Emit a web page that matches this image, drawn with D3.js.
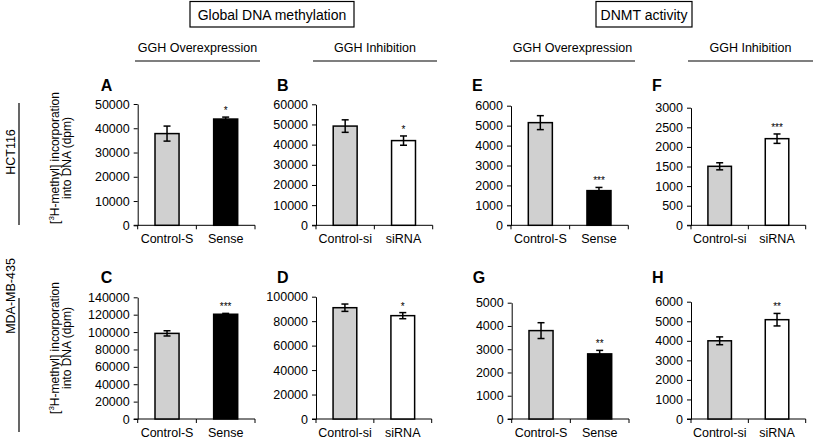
<!DOCTYPE html>
<html><head><meta charset="utf-8">
<script src="https://cdn.jsdelivr.net/npm/d3@7"></script>
<style>
html,body{margin:0;padding:0;background:#fff;}
svg{display:block;font-family:"Liberation Sans",Arial,sans-serif;}
</style></head>
<body><svg id="chart" width="814" height="442"></svg>
<script>
// ---------- data ----------
const categoriesOver = ["Control-S", "Sense"];
const categoriesInhib = ["Control-si", "siRNA"];

const valuesA = [37800, 43800];  const errorsA = [3100, 800];  const starsA = ["", "*"];
const ticksA = [0, 10000, 20000, 30000, 40000, 50000];
const valuesB = [49200, 42000];  const errorsB = [3100, 2300]; const starsB = ["", "*"];
const ticksB = [0, 10000, 20000, 30000, 40000, 50000, 60000];
const valuesC = [98500, 120500]; const errorsC = [3000, 1000]; const starsC = ["", "***"];
const ticksC = [0, 20000, 40000, 60000, 80000, 100000, 120000, 140000];
const valuesD = [91000, 84500];  const errorsD = [3000, 2500]; const starsD = ["", "*"];
const ticksD = [0, 20000, 40000, 60000, 80000, 100000];
const valuesE = [5150, 1740];    const errorsE = [350, 160];   const starsE = ["", "***"];
const ticksE = [0, 1000, 2000, 3000, 4000, 5000, 6000];
const valuesF = [1505, 2210];    const errorsF = [90, 120];    const starsF = ["", "***"];
const ticksF = [0, 500, 1000, 1500, 2000, 2500, 3000];
const valuesG = [3800, 2800];    const errorsG = [340, 150];   const starsG = ["", "**"];
const ticksG = [0, 1000, 2000, 3000, 4000, 5000];
const valuesH = [4000, 5080];    const errorsH = [200, 320];   const starsH = ["", "**"];
const ticksH = [0, 1000, 2000, 3000, 4000, 5000, 6000];

const fillOver = ["#d0d0d0", "#000000"];
const fillInhib = ["#d0d0d0", "#ffffff"];

// ---------- layout ----------
const panels = [
  {id:"A", cats:categoriesOver,  vals:valuesA, errs:errorsA, stars:starsA, ticks:ticksA, fills:fillOver,  x0:137.7, x1:255,   top:104,   zero:225.3},
  {id:"B", cats:categoriesInhib, vals:valuesB, errs:errorsB, stars:starsB, ticks:ticksB, fills:fillInhib, x0:316,   x1:432.7, top:104.3, zero:225.3},
  {id:"E", cats:categoriesOver,  vals:valuesE, errs:errorsE, stars:starsE, ticks:ticksE, fills:fillOver,  x0:511,   x1:628.3, top:105.7, zero:225.3},
  {id:"F", cats:categoriesInhib, vals:valuesF, errs:errorsF, stars:starsF, ticks:ticksF, fills:fillInhib, x0:691,   x1:805.7, top:107.7, zero:225.3},
  {id:"C", cats:categoriesOver,  vals:valuesC, errs:errorsC, stars:starsC, ticks:ticksC, fills:fillOver,  x0:137.7, x1:255,   top:297.3, zero:419},
  {id:"D", cats:categoriesInhib, vals:valuesD, errs:errorsD, stars:starsD, ticks:ticksD, fills:fillInhib, x0:316,   x1:431.7, top:296.7, zero:419},
  {id:"G", cats:categoriesOver,  vals:valuesG, errs:errorsG, stars:starsG, ticks:ticksG, fills:fillOver,  x0:511.7, x1:629,   top:302.7, zero:419},
  {id:"H", cats:categoriesInhib, vals:valuesH, errs:errorsH, stars:starsH, ticks:ticksH, fills:fillInhib, x0:691,   x1:805.7, top:301.7, zero:419}
];

const svg = d3.select("#chart");

panels.forEach(p => {
  const g = svg.append("g");
  const y = d3.scaleLinear().domain([0, d3.max(p.ticks)]).range([p.zero, p.top]);
  const x = d3.scaleBand().domain(p.cats).range([p.x0, p.x1]).paddingInner(0.59).paddingOuter(0.295);

  // y axis
  const ya = g.append("g").attr("transform", `translate(${p.x0},0)`)
    .call(d3.axisLeft(y).tickValues(p.ticks).tickFormat(d3.format("d")).tickSizeInner(4).tickSizeOuter(0).tickPadding(4));
  ya.select(".domain").attr("stroke", "#000").attr("stroke-width", 1);
  ya.selectAll(".tick line").attr("stroke", "#000");
  ya.selectAll("text").attr("font-size", 12.5).attr("fill", "#000").attr("font-family", "Liberation Sans, Arial, sans-serif");

  // x axis line + boundary ticks
  g.append("line").attr("x1", p.x0 - 4).attr("x2", p.x1).attr("y1", p.zero).attr("y2", p.zero)
    .attr("stroke", "#000").attr("stroke-width", 1);
  const bounds = [p.x0, (p.x0 + p.x1) / 2, p.x1];
  g.selectAll(".bt").data(bounds).enter().append("line")
    .attr("x1", d => d).attr("x2", d => d).attr("y1", p.zero).attr("y2", p.zero + 4)
    .attr("stroke", "#000").attr("stroke-width", 1);

  // category labels
  g.selectAll(".cl").data(p.cats).enter().append("text")
    .attr("x", d => x(d) + x.bandwidth() / 2).attr("y", p.zero + 14)
    .attr("dominant-baseline", "central").attr("text-anchor", "middle")
    .attr("font-size", 12.5).text(d => d);

  const rows = p.cats.map((c, i) => ({c, v: p.vals[i], e: p.errs[i], s: p.stars[i], f: p.fills[i]}));

  // bars
  g.selectAll(".bar").data(rows).enter().append("rect")
    .attr("x", d => x(d.c)).attr("width", x.bandwidth())
    .attr("y", d => y(d.v)).attr("height", d => y(0) - y(d.v))
    .attr("fill", d => d.f).attr("stroke", "#000").attr("stroke-width", 1.5);

  // error bars
  const cap = 3.5;
  rows.forEach(d => {
    const cx = x(d.c) + x.bandwidth() / 2;
    g.append("line").attr("x1", cx).attr("x2", cx).attr("y1", y(d.v + d.e)).attr("y2", y(d.v - d.e))
      .attr("stroke", "#000").attr("stroke-width", 1.5);
    [d.v + d.e, d.v - d.e].forEach(v => {
      g.append("line").attr("x1", cx - cap).attr("x2", cx + cap).attr("y1", y(v)).attr("y2", y(v))
        .attr("stroke", "#000").attr("stroke-width", 1.5);
    });
    if (d.s) {
      g.append("text").attr("x", cx).attr("y", y(d.v + d.e) - 3)
        .attr("text-anchor", "middle").attr("font-size", 10).attr("fill", "#000").text(d.s);
    }
  });

  // panel letter
  const letterX = p.x0 - (p.id === "A" || p.id === "C" ? 37 : 39);
  g.append("text").attr("x", letterX).attr("y", p.zero === 225.3 ? 91 : 283)
    .attr("font-size", 16).attr("font-weight", "bold").text(p.id);
});

// ---------- headers ----------
const boxes = [
  {t: "Global DNA methylation", x0: 190, x1: 354},
  {t: "DNMT activity", x0: 596, x1: 692}
];
boxes.forEach(b => {
  svg.append("rect").attr("x", b.x0).attr("y", 1.5).attr("width", b.x1 - b.x0).attr("height", 25.5)
    .attr("fill", "none").attr("stroke", "#000").attr("stroke-width", 1.2);
  svg.append("text").attr("x", (b.x0 + b.x1) / 2).attr("y", 14.5).attr("text-anchor", "middle")
    .attr("dominant-baseline", "central").attr("font-size", 14).text(b.t);
});

const subs = [
  {t: "GGH Overexpression", x0: 135, x1: 260},
  {t: "GGH Inhibition", x0: 313, x1: 437},
  {t: "GGH Overexpression", x0: 510, x1: 635},
  {t: "GGH Inhibition", x0: 688, x1: 813}
];
subs.forEach(s => {
  svg.append("text").attr("x", (s.x0 + s.x1) / 2).attr("y", 48).attr("text-anchor", "middle")
    .attr("dominant-baseline", "central").attr("font-size", 12.5).text(s.t);
  svg.append("line").attr("x1", s.x0).attr("x2", s.x1).attr("y1", 61).attr("y2", 61)
    .attr("stroke", "#000").attr("stroke-width", 1.2);
});

// ---------- row labels ----------
const rowsLab = [
  {t: "HCT116", cy: 152, l0: 103, l1: 225, ycy: 158},
  {t: "MDA-MB-435", cy: 296, l0: 298, l1: 432, ycy: 348}
];
rowsLab.forEach(r => {
  svg.append("line").attr("x1", 19).attr("x2", 19).attr("y1", r.l0).attr("y2", r.l1)
    .attr("stroke", "#000").attr("stroke-width", 1.2);
  svg.append("text").attr("transform", `translate(11,${r.cy}) rotate(-90)`)
    .attr("text-anchor", "middle").attr("dominant-baseline", "central").attr("font-size", 12.5).text(r.t);
  const t1 = svg.append("text").attr("transform", `translate(55,${r.ycy}) rotate(-90)`)
    .attr("text-anchor", "middle").attr("dominant-baseline", "central").attr("font-size", 12);
  t1.append("tspan").text("[");
  t1.append("tspan").attr("font-size", 8).attr("dy", -4).text("3");
  t1.append("tspan").attr("dy", 4).text("H-methyl] incorporation");
  svg.append("text").attr("transform", `translate(67,${r.ycy}) rotate(-90)`)
    .attr("text-anchor", "middle").attr("dominant-baseline", "central").attr("font-size", 12)
    .text("into DNA (dpm)");
});
</script>
</body></html>
